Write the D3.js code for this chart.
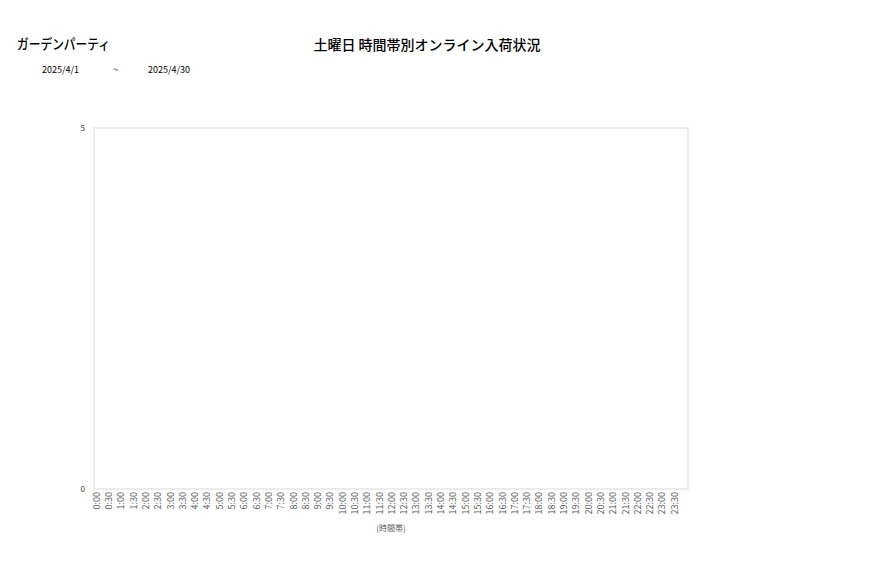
<!DOCTYPE html>
<html>
<head>
<meta charset="utf-8">
<script src="https://cdn.jsdelivr.net/npm/d3@7"></script>
<style>
  body { margin: 0; background: #fff; }
  text { font-family: "Noto Sans CJK JP", "Noto Sans", sans-serif; }
</style>
</head>
<body>
<svg width="877" height="578"></svg>
<script>
// data
var shopName = "ガーデンパーティ";
var chartTitle = "土曜日 時間帯別オンライン入荷状況";
var dateFrom = "2025/4/1", dateTo = "2025/4/30";
var timeSlots = [];
for (var h = 0; h < 24; h++) { timeSlots.push(h + ":00"); timeSlots.push(h + ":30"); }
var arrivals = [0,0,0,0,0,0,0,0,0,0,0,0,0,0,0,0,0,0,0,0,0,0,0,0,
                0,0,0,0,0,0,0,0,0,0,0,0,0,0,0,0,0,0,0,0,0,0,0,0];
var yTicks = [0, 5];

var svg = d3.select("svg"),
    margin = {top: 128, right: 189, bottom: 89, left: 94},
    width = +svg.attr("width") - margin.left - margin.right,
    height = +svg.attr("height") - margin.top - margin.bottom,
    g = svg.append("g").attr("transform", "translate(" + margin.left + "," + margin.top + ")");

// titles
svg.append("text").attr("x", 17).attr("y", 49)
    .attr("font-size", 14).attr("font-weight", 500).attr("fill", "#000")
    .attr("textLength", 93).attr("lengthAdjust", "spacingAndGlyphs")
    .text(shopName);
svg.append("text").attr("x", 427).attr("y", 50).attr("text-anchor", "middle")
    .attr("font-size", 14).attr("font-weight", 500).attr("fill", "#000")
    .text(chartTitle);
svg.append("text").attr("x", 42).attr("y", 73).attr("font-size", 9).attr("fill", "#000").text(dateFrom);
svg.append("text").attr("x", 113).attr("y", 73).attr("font-size", 9).attr("fill", "#000").text("~");
svg.append("text").attr("x", 148).attr("y", 73).attr("font-size", 9).attr("fill", "#000").text(dateTo);

var x = d3.scaleBand().domain(timeSlots).range([0, width]).padding(0.3);
var y = d3.scaleLinear().domain([0, 5]).range([height, 0]);

// plot frame
g.append("rect")
    .attr("width", width).attr("height", height)
    .attr("fill", "none").attr("stroke", "#d9d9d9");

// bars (all zero here)
g.selectAll(".bar")
  .data(arrivals)
  .enter().append("rect")
    .attr("class", "bar")
    .attr("x", function(d, i) { return x(timeSlots[i]); })
    .attr("y", function(d) { return y(d); })
    .attr("width", x.bandwidth())
    .attr("height", function(d) { return height - y(d); })
    .attr("fill", "#4472c4");

// y axis
var yAxis = g.append("g")
    .call(d3.axisLeft(y).tickValues(yTicks).tickSize(0).tickPadding(9).tickFormat(d3.format("d")));
yAxis.select(".domain").remove();
yAxis.selectAll("text").attr("font-size", 8).attr("fill", "#404040")
    .attr("font-family", "\"Noto Sans CJK JP\", sans-serif");

// x axis
var xAxis = g.append("g")
    .attr("transform", "translate(0," + height + ")")
    .call(d3.axisBottom(x).tickSize(0));
xAxis.select(".domain").remove();
xAxis.selectAll("text")
    .attr("font-size", 9).attr("fill", "#595959")
    .attr("font-family", "\"Noto Sans CJK JP\", sans-serif")
    .attr("text-anchor", "end")
    .attr("transform", "rotate(-90)")
    .attr("x", -3).attr("y", 0).attr("dy", "-0.25em");

svg.append("text").attr("x", 391).attr("y", 531).attr("text-anchor", "middle")
    .attr("font-size", 8).attr("fill", "#595959").text("(時間帯)");
</script>
</body>
</html>
